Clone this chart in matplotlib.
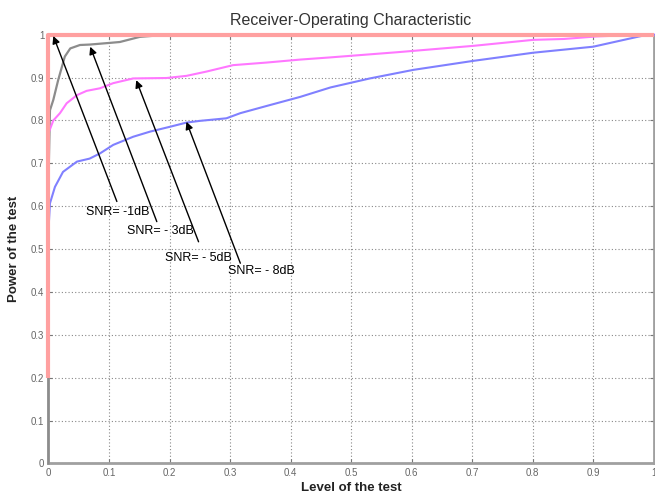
import matplotlib
matplotlib.use("Agg")
import matplotlib.pyplot as plt

plt.rcParams['font.family'] = ['Liberation Sans', 'DejaVu Sans']

# ---- data ----
ideal_x = [0.0, 0.0, 1.0]
ideal_y = [0.2, 1.0, 1.0]

snr1_x = [0.0, 0.0, 0.0025, 0.008, 0.016, 0.027, 0.036, 0.052, 0.068, 0.102, 0.118, 0.151, 0.178, 0.25, 0.314]
snr1_y = [0.0, 0.66, 0.824, 0.848, 0.894, 0.949, 0.968, 0.976, 0.977, 0.981, 0.983, 0.995, 0.998, 1.0, 1.0]

snr5_x = [0.0, 0.0, 0.008, 0.019, 0.03, 0.047, 0.063, 0.085, 0.107, 0.14, 0.195, 0.228, 0.261, 0.305,
          0.36, 0.416, 0.465, 0.575, 0.702, 0.801, 0.851, 0.906, 0.98, 1.0]
snr5_y = [0.66, 0.77, 0.80, 0.817, 0.84, 0.859, 0.869, 0.875, 0.887, 0.898, 0.899, 0.904, 0.914, 0.929,
          0.935, 0.942, 0.947, 0.959, 0.974, 0.988, 0.99, 0.996, 1.0, 1.0]

snr8_x = [0.0, 0.0025, 0.0107, 0.024, 0.047, 0.068, 0.085, 0.107, 0.14, 0.168, 0.2, 0.228, 0.25, 0.294,
          0.317, 0.361, 0.416, 0.466, 0.531, 0.603, 0.702, 0.801, 0.9, 0.989, 1.0]
snr8_y = [0.545, 0.607, 0.645, 0.68, 0.704, 0.711, 0.723, 0.743, 0.762, 0.774, 0.785, 0.795, 0.799, 0.805,
          0.817, 0.834, 0.855, 0.877, 0.898, 0.918, 0.939, 0.958, 0.972, 1.0, 1.0]

labels = ['SNR= -1dB', 'SNR= - 3dB', 'SNR= - 5dB', 'SNR= - 8dB']
arrow_tips = [(0.008, 0.997), (0.069, 0.972), (0.145, 0.894), (0.228, 0.797)]
arrow_tails = [(0.113, 0.611), (0.179, 0.564), (0.248, 0.517), (0.317, 0.467)]
label_pos = [(0.062, 0.587), (0.129, 0.543), (0.193, 0.480), (0.297, 0.449)]

ticks = [0, 0.1, 0.2, 0.3, 0.4, 0.5, 0.6, 0.7, 0.8, 0.9, 1]
tick_labels = ['0', '0.1', '0.2', '0.3', '0.4', '0.5', '0.6', '0.7', '0.8', '0.9', '1']

# ---- figure ----
fig = plt.figure(figsize=(6.55, 4.93), dpi=100)
ax = fig.add_axes([0.074, 0.060, 0.924, 0.8696])

ax.plot(snr1_x, snr1_y, color='#8c8c8c', lw=1.6, zorder=4, clip_on=False)
ax.plot(ideal_x, ideal_y, color='#ffa0a0', lw=3.0, zorder=5, clip_on=False,
        solid_capstyle='butt')
ax.plot(snr5_x, snr5_y, color='#ff77ff', lw=1.5, zorder=4, clip_on=False)
ax.plot(snr8_x, snr8_y, color='#8080ff', lw=1.5, zorder=4, clip_on=False)

for lab, tip, tail, pos in zip(labels, arrow_tips, arrow_tails, label_pos):
    ax.annotate('', xy=tip, xytext=tail,
                arrowprops=dict(arrowstyle='-|>', color='black', lw=1.0,
                                mutation_scale=11, shrinkA=0, shrinkB=0), zorder=6)
    ax.text(pos[0], pos[1], lab, fontsize=9, ha='left', va='center', color='black', zorder=7)

ax.set_xlim(0, 1)
ax.set_ylim(0, 1)
ax.set_xticks(ticks)
ax.set_xticklabels(tick_labels)
ax.set_yticks(ticks)
ax.set_yticklabels(tick_labels)
ax.tick_params(direction='in', length=3, width=0.8, colors='#777777', labelsize=7,
               labelcolor='#666666', top=True, right=True, pad=3)
ax.grid(True, color='#888888', linestyle=(0, (1, 2)), lw=0.8)
for s in ax.spines.values():
    s.set_color('#a0a0a0')
    s.set_linewidth(2.0)

ax.set_title('Receiver-Operating Characteristic', fontsize=11.5, color='#333333', pad=7)
ax.set_xlabel('Level of the test', fontsize=9.5, fontweight='bold', color='#222222', labelpad=3)
ax.set_ylabel('Power of the test', fontsize=9.5, fontweight='bold', color='#222222', labelpad=8)

fig.savefig('out.png', dpi=100)
